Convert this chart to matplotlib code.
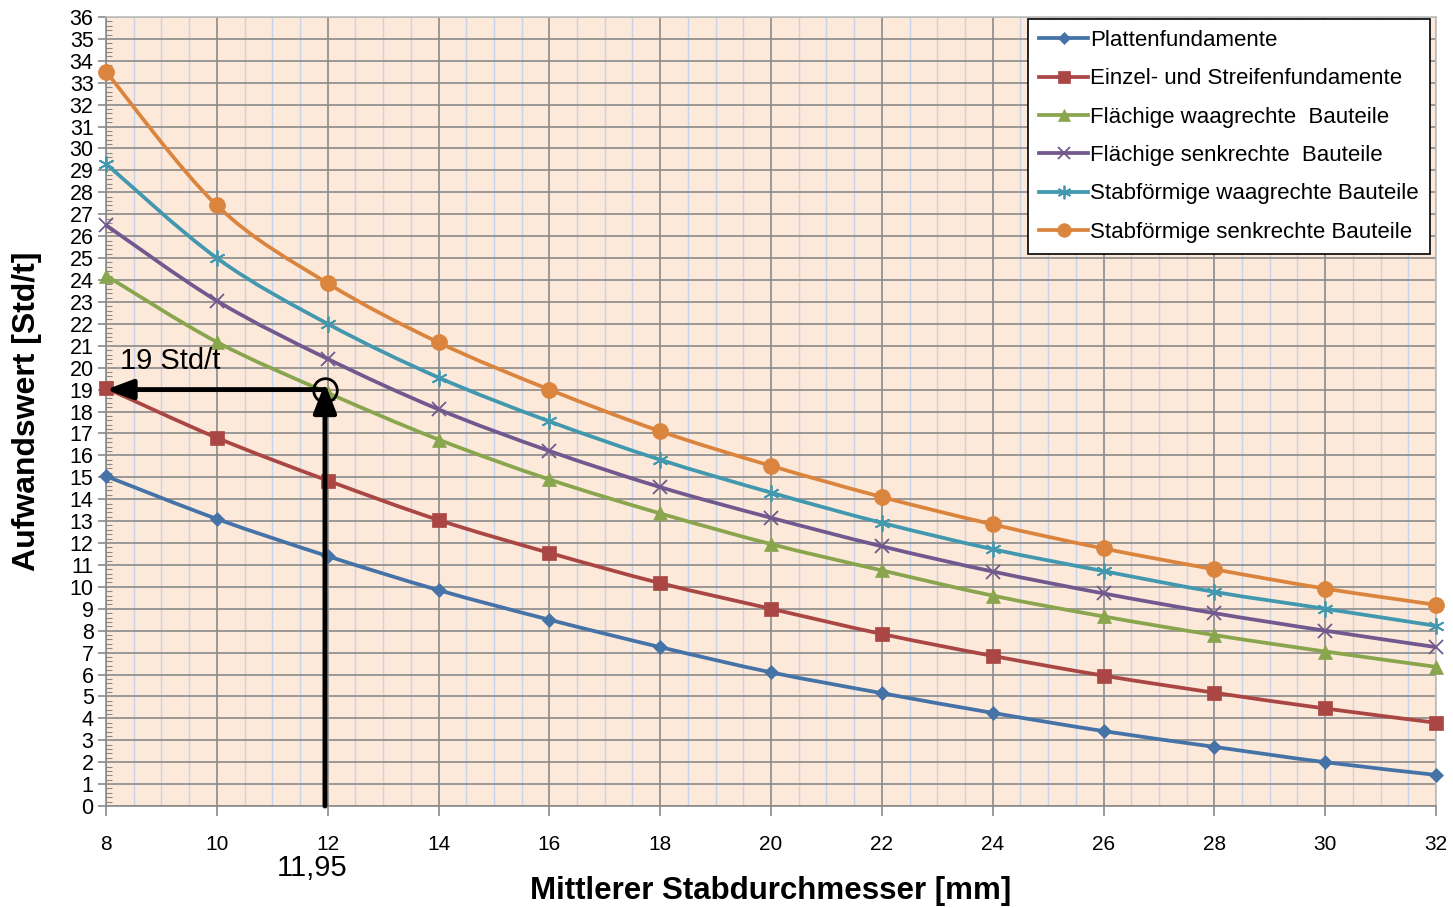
import matplotlib
matplotlib.use("Agg")
import matplotlib.pyplot as plt
from matplotlib.path import Path
from matplotlib.patches import PathPatch
from matplotlib.lines import Line2D
from matplotlib.ticker import MultipleLocator

# ---- data -------------------------------------------------------------
diameters = [8, 10, 12, 14, 16, 18, 20, 22, 24, 26, 28, 30, 32]

plattenfundamente = [15.05, 13.1, 11.4, 9.85, 8.5, 7.25, 6.1, 5.15, 4.25, 3.42, 2.7, 2.0, 1.42]
einzel_streifen = [19.07, 16.8, 14.85, 13.05, 11.55, 10.17, 9.0, 7.85, 6.85, 5.95, 5.17, 4.45, 3.8]
flaechig_waagrecht = [24.2, 21.17, 18.85, 16.72, 14.9, 13.35, 11.95, 10.75, 9.6, 8.65, 7.8, 7.05, 6.35]
flaechig_senkrecht = [26.5, 23.05, 20.4, 18.1, 16.2, 14.55, 13.15, 11.85, 10.7, 9.7, 8.8, 8.0, 7.25]
stab_waagrecht = [29.3, 25.0, 22.0, 19.55, 17.55, 15.8, 14.3, 12.92, 11.72, 10.72, 9.77, 9.0, 8.22]
stab_senkrecht = [33.5, 27.4, 23.85, 21.15, 19.0, 17.1, 15.52, 14.1, 12.85, 11.75, 10.8, 9.92, 9.18]

series_names = [
    "Plattenfundamente",
    "Einzel- und Streifenfundamente",
    "Flächige waagrechte  Bauteile",
    "Flächige senkrechte  Bauteile",
    "Stabförmige waagrechte Bauteile",
    "Stabförmige senkrechte Bauteile",
]
series_values = [plattenfundamente, einzel_streifen, flaechig_waagrecht,
                 flaechig_senkrecht, stab_waagrecht, stab_senkrecht]

reading_x = 11.95
reading_y = 19

# ---- styles -----------------------------------------------------------
colors = ["#4572A7", "#AA4643", "#89A54E", "#71588F", "#4198AF", "#DB843D"]
markers = ["D", "s", "^", "x", (6, 2, 0), "o"]
msizes = [7.5, 10, 9.5, 10.5, 11.5, 11.5]

plt.rcParams["font.family"] = ["Liberation Sans", "DejaVu Sans"]

fig = plt.figure(figsize=(14.53, 9.08), dpi=100)
ax = fig.add_axes([0.073, 0.1123, 0.9153, 0.869])
ax.set_facecolor("#FDE9D9")

ax.set_xlim(8, 32)
ax.set_ylim(0, 36)


def smooth_path(xs, ys):
    """Bezier path through the points with Excel-like smoothing."""
    pts = list(zip(xs, ys))
    n = len(pts)
    verts = [pts[0]]
    codes = [Path.MOVETO]
    for i in range(n - 1):
        p0 = pts[i - 1] if i > 0 else pts[i]
        p1 = pts[i]
        p2 = pts[i + 1]
        p3 = pts[i + 2] if i + 2 < n else pts[i + 1]
        c1 = (p1[0] + (p2[0] - p0[0]) / 6, p1[1] + (p2[1] - p0[1]) / 6)
        c2 = (p2[0] - (p3[0] - p1[0]) / 6, p2[1] - (p3[1] - p1[1]) / 6)
        verts += [c1, c2, p2]
        codes += [Path.CURVE4] * 3
    return Path(verts, codes)


handles = []
for name, vals, c, m, ms in zip(series_names, series_values, colors, markers, msizes):
    patch = PathPatch(smooth_path(diameters, vals), facecolor="none",
                      edgecolor=c, lw=2.7, zorder=3, clip_on=False)
    ax.add_patch(patch)
    thin = m == "x" or isinstance(m, tuple)
    mew = 1.3 if thin else 0.5
    ax.plot(diameters, vals, linestyle="none", marker=m, markersize=ms,
            color=c, markeredgecolor=c, markeredgewidth=mew, zorder=4, clip_on=False)
    handles.append(Line2D([], [], color=c, lw=2.7, marker=m, markersize=ms * 0.85,
                          markeredgecolor=c, markeredgewidth=mew))

# ---- grid and ticks ---------------------------------------------------
ax.xaxis.set_major_locator(MultipleLocator(2))
ax.xaxis.set_minor_locator(MultipleLocator(0.5))
ax.yaxis.set_major_locator(MultipleLocator(1))
ax.yaxis.set_minor_locator(MultipleLocator(0.2))

for v in [x * 0.5 for x in range(16, 65)]:
    if v % 2 != 0:
        ax.axvline(v, color="#C5D3EC", lw=1.0, zorder=0.5)
ax.grid(True, which="major", color="#8A8A8A", lw=1.2, zorder=1)
ax.set_axisbelow(True)

ax.tick_params(axis="x", which="major", direction="out", length=7, width=1.2,
               color="#8A8A8A", pad=14, labelsize=15)
ax.tick_params(axis="x", which="minor", length=0)
ax.tick_params(axis="y", which="major", direction="out", length=6, width=1.2,
               color="#8A8A8A", pad=3, labelsize=15.5)
ax.tick_params(axis="y", which="minor", direction="in", length=4, width=0.8,
               color="#8A8A8A")

for sp in ax.spines.values():
    sp.set_color("#8A8A8A")
    sp.set_linewidth(1.2)
ax.spines["top"].set_color("#BFBFBF")
ax.spines["right"].set_color("#BFBFBF")

ax.set_xlabel("Mittlerer Stabdurchmesser [mm]", fontsize=22.5, fontweight="bold",
              labelpad=16)
ax.set_ylabel("Aufwandswert [Std/t]", fontsize=23, fontweight="bold", labelpad=20)

# ---- reading example --------------------------------------------------
ax.annotate("", xy=(8, reading_y), xytext=(reading_x, reading_y),
            arrowprops=dict(arrowstyle="-|>,head_length=0.8,head_width=0.3",
                            color="black", lw=3.5, shrinkA=0, shrinkB=0,
                            mutation_scale=20),
            zorder=6, annotation_clip=False)
ax.annotate("", xy=(reading_x, reading_y + 0.3), xytext=(reading_x, 0),
            arrowprops=dict(arrowstyle="-|>,head_length=0.9,head_width=0.35",
                            color="black", lw=3.5, shrinkA=0, shrinkB=0,
                            mutation_scale=20),
            zorder=6, annotation_clip=False)
ax.plot([reading_x], [reading_y], marker="o", markersize=17,
        markerfacecolor="none", markeredgecolor="black", markeredgewidth=2, zorder=7)

ax.text(8.25, 20.3, f"{reading_y} Std/t", fontsize=21, va="center", ha="left", zorder=6)
fig.text(312 / 1453, 1 - 868 / 908, f"{reading_x:.2f}".replace(".", ","),
         fontsize=21, ha="center", va="center")

# ---- legend -----------------------------------------------------------
leg = ax.legend(handles, series_names, loc="upper right",
                bbox_to_anchor=(1430 / 1453, 1 - 19 / 908),
                bbox_transform=fig.transFigure, fontsize=16, frameon=True,
                fancybox=False, edgecolor="black", framealpha=1,
                handlelength=2.2, handletextpad=0.1, labelspacing=0.78,
                borderpad=0.5, borderaxespad=0)
leg.get_frame().set_linewidth(1.2)
leg.set_zorder(10)

fig.savefig("out.png", dpi=100)
